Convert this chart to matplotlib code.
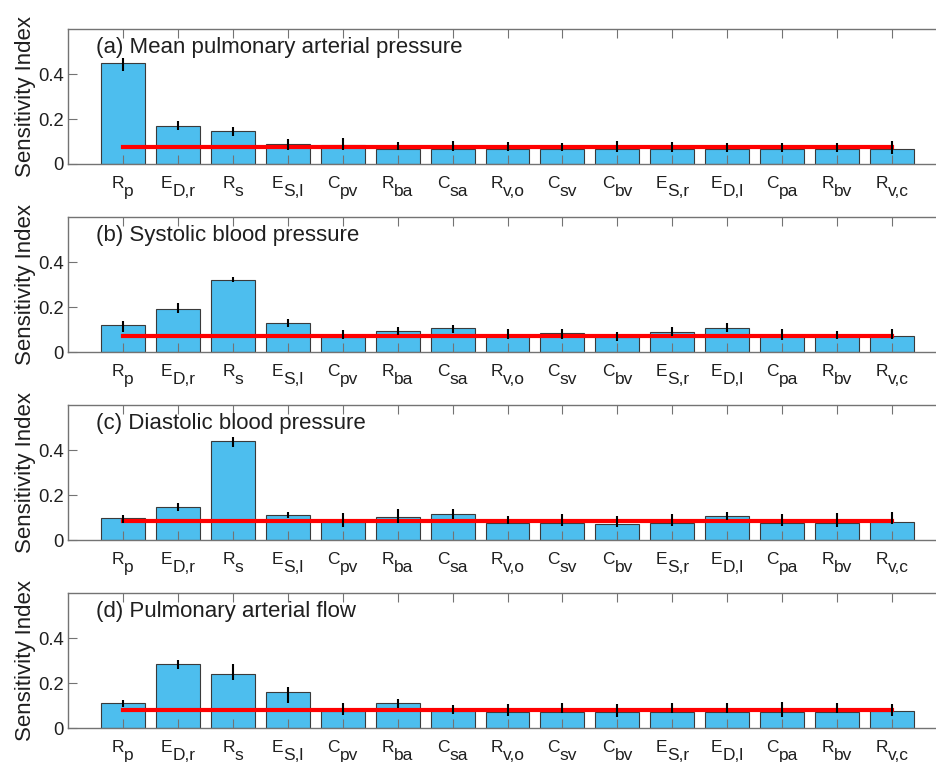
import matplotlib
matplotlib.use("Agg")
import matplotlib.pyplot as plt
import matplotlib.transforms as mtransforms
import numpy as np

plt.rcParams['font.family'] = ['Liberation Sans', 'DejaVu Sans']

# parameter names: main letter + subscript (MATLAB style, subscript same size, lowered)
param_main = ['R', 'E', 'R', 'E', 'C', 'R', 'C', 'R', 'C', 'C', 'E', 'E', 'C', 'R', 'R']
param_sub = ['p', 'D,r', 's', 'S,l', 'pv', 'ba', 'sa', 'v,o', 'sv', 'bv', 'S,r', 'D,l', 'pa', 'bv', 'v,c']

titles = ['(a) Mean pulmonary arterial pressure',
          '(b) Systolic blood pressure',
          '(c) Diastolic blood pressure',
          '(d) Pulmonary arterial flow']

# sensitivity index per output
mpap = [0.450, 0.170, 0.148, 0.088, 0.084, 0.068, 0.068, 0.068, 0.068, 0.068, 0.068, 0.068, 0.068, 0.068, 0.066]
mpap_lo = [0.414, 0.152, 0.125, 0.061, 0.063, 0.061, 0.057, 0.056, 0.058, 0.054, 0.052, 0.052, 0.052, 0.052, 0.043]
mpap_hi = [0.470, 0.189, 0.164, 0.110, 0.114, 0.096, 0.103, 0.098, 0.095, 0.103, 0.097, 0.094, 0.094, 0.094, 0.103]

sbp = [0.121, 0.192, 0.322, 0.130, 0.068, 0.093, 0.107, 0.079, 0.084, 0.069, 0.088, 0.107, 0.078, 0.072, 0.074]
sbp_lo = [0.092, 0.176, 0.311, 0.114, 0.058, 0.076, 0.087, 0.057, 0.057, 0.048, 0.071, 0.089, 0.054, 0.058, 0.058]
sbp_hi = [0.139, 0.220, 0.336, 0.146, 0.101, 0.113, 0.121, 0.104, 0.104, 0.092, 0.114, 0.129, 0.104, 0.096, 0.104]

dbp = [0.097, 0.145, 0.441, 0.111, 0.080, 0.101, 0.114, 0.075, 0.075, 0.070, 0.076, 0.105, 0.076, 0.076, 0.081]
dbp_lo = [0.077, 0.129, 0.415, 0.096, 0.059, 0.074, 0.093, 0.071, 0.064, 0.059, 0.064, 0.089, 0.064, 0.060, 0.072]
dbp_hi = [0.111, 0.166, 0.459, 0.126, 0.119, 0.136, 0.136, 0.105, 0.114, 0.108, 0.116, 0.123, 0.114, 0.120, 0.123]

paf = [0.110, 0.284, 0.240, 0.162, 0.074, 0.110, 0.074, 0.072, 0.073, 0.072, 0.073, 0.073, 0.073, 0.073, 0.077]
paf_lo = [0.095, 0.262, 0.214, 0.110, 0.058, 0.091, 0.063, 0.055, 0.068, 0.051, 0.065, 0.065, 0.050, 0.065, 0.052]
paf_hi = [0.125, 0.303, 0.286, 0.184, 0.110, 0.128, 0.103, 0.106, 0.113, 0.106, 0.113, 0.110, 0.117, 0.113, 0.106]

# threshold (red line) per output
thresholds = [0.075, 0.074, 0.084, 0.082]

values = [mpap, sbp, dbp, paf]
lows = [mpap_lo, sbp_lo, dbp_lo, paf_lo]
highs = [mpap_hi, sbp_hi, dbp_hi, paf_hi]

x = np.arange(1, len(param_main) + 1)
bar_color = '#4DBEEE'
axis_color = '#737373'
text_color = '#1f1f1f'
label_size = 12.5

fig = plt.figure(figsize=(9.36, 7.62), dpi=100)
renderer = fig.canvas.get_renderer()
bottoms = [0.7848, 0.5377, 0.2913, 0.0446]

for i in range(4):
    ax = fig.add_axes([0.0727, bottoms[i], 0.9273, 0.177])

    ax.bar(x, values[i], width=0.8, color=bar_color, edgecolor='#3a3a3a', linewidth=0.8, zorder=1)
    ax.plot([x[0], x[-1]], [thresholds[i], thresholds[i]], color='#ff0000', linewidth=3, zorder=2)
    ax.vlines(x, lows[i], highs[i], color='black', linewidth=1.5, zorder=3)

    ax.text(0.5, 0.52, titles[i], fontsize=16, color=text_color, ha='left', va='center')

    ax.set_xlim(0, 15.8)
    ax.set_ylim(0, 0.6)
    ax.set_xticks(x)
    ax.set_xticklabels([])
    ax.set_yticks([0, 0.2, 0.4])
    ax.set_yticklabels(['0', '0.2', '0.4'])

    ax.tick_params(axis='x', direction='in', top=True, bottom=True, length=6.3, width=0.8,
                   color=axis_color)
    ax.tick_params(axis='y', direction='in', left=True, right=False, length=6.3, width=0.8,
                   color=axis_color, labelsize=13.3, pad=3, labelcolor=text_color)

    for side in ['left', 'top', 'bottom']:
        ax.spines[side].set_color(axis_color)
        ax.spines[side].set_linewidth(1.0)
    ax.spines['right'].set_visible(False)

    ax.set_ylabel('Sensitivity Index', fontsize=16, color=text_color)
    ax.yaxis.set_label_coords(-0.037, 0.5)

    # tick labels with big lowered subscripts, centred on each tick
    base = ax.get_xaxis_transform()
    for xi, m, s in zip(x, param_main, param_sub):
        t1 = ax.text(xi, 0, m, fontsize=label_size, color=text_color, ha='left', va='baseline',
                     transform=base)
        t2 = ax.text(xi, 0, s, fontsize=label_size, color=text_color, ha='left', va='baseline',
                     transform=base)
        w1 = t1.get_window_extent(renderer).width
        w2 = t2.get_window_extent(renderer).width
        left = -(w1 + w2) / 2
        t1.set_transform(mtransforms.offset_copy(base, fig=fig, x=left, y=-24, units='dots'))
        t2.set_transform(mtransforms.offset_copy(base, fig=fig, x=left + w1, y=-32, units='dots'))

fig.savefig('out.png', dpi=100)
